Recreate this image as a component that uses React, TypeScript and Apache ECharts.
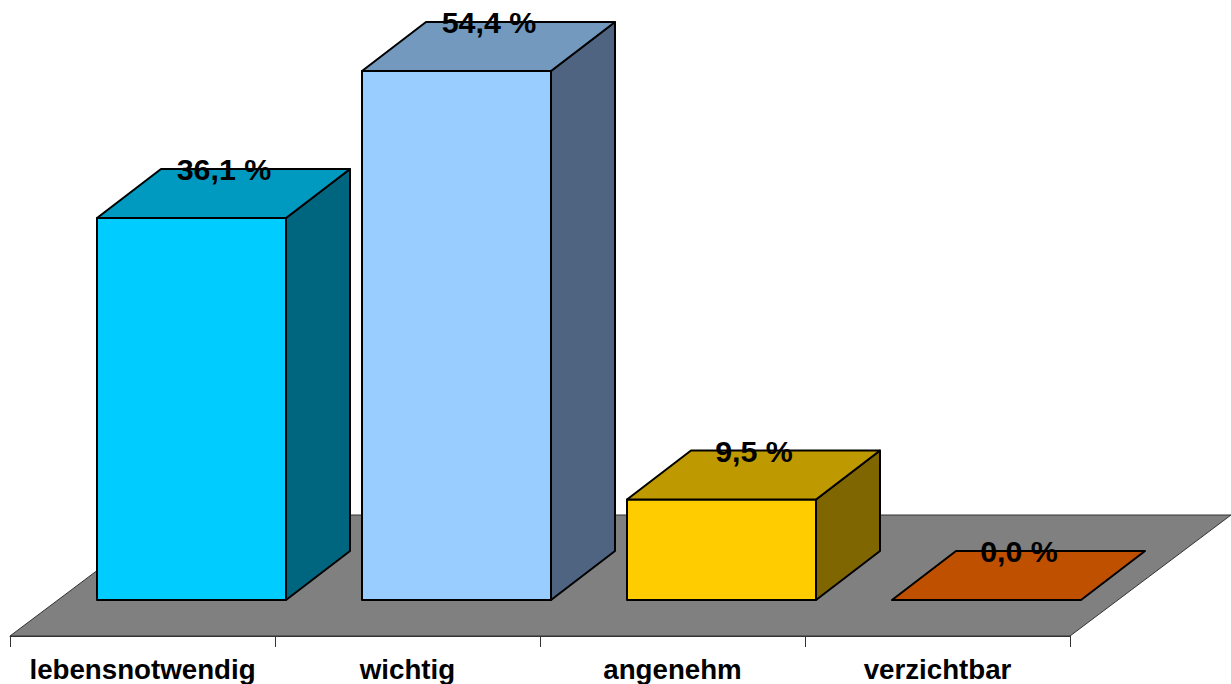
import React, { useEffect, useRef } from "react";
import * as echarts from "echarts";

const categories = ["lebensnotwendig", "wichtig", "angenehm", "verzichtbar"];
const shares = [36.1, 54.4, 9.5, 0.0];
const valueLabels = ["36,1 %", "54,4 %", "9,5 %", "0,0 %"];
const frontColors = ["#00CCFF", "#99CCFF", "#FFCC00", "#FF6600"];
const topColors = ["#0099BF", "#7399BF", "#BF9900", "#BF5000"];
const sideColors = ["#006680", "#4F6480", "#806600", "#803300"];

// The value axis stops at 50, so taller columns are cut off at that height.
const AXIS_MAX = 50;
// The scale runs below zero so the floor's front edge sits under the column feet.
const AXIS_MIN = -3.4;

// Oblique projection of the 3D scene, in pixels.
const BAR_DEPTH_X = 64;
const BAR_DEPTH_Y = -49;
const BAR_WIDTH = 189;
const BAR_SHIFT_X = 49;
const FLOOR_DEPTH_X = 161;
const FLOOR_DEPTH_Y = -121;

const FONT = "'Liberation Sans', Arial, sans-serif";

function renderFloor(params: any) {
  const r = params.coordSys;
  const y = r.y + r.height;
  const l = r.x;
  const w = r.width;
  return {
    type: "polygon",
    shape: {
      points: [
        [l, y],
        [l + w, y],
        [l + w + FLOOR_DEPTH_X, y + FLOOR_DEPTH_Y],
        [l + FLOOR_DEPTH_X, y + FLOOR_DEPTH_Y],
      ],
    },
    style: { fill: "#808080", stroke: "#333333", lineWidth: 1 },
  };
}

function renderBar(params: any, api: any) {
  const i = api.value(0);
  const [cx, y0] = api.coord([i, 0]);
  const [, yTop] = api.coord([i, Math.min(api.value(1), AXIS_MAX)]);
  const left = cx + BAR_SHIFT_X - BAR_WIDTH / 2;
  const right = left + BAR_WIDTH;
  const dx = BAR_DEPTH_X;
  const dy = BAR_DEPTH_Y;
  const edge = { stroke: "#000000", lineWidth: 2, lineJoin: "round" };
  const face = (points: number[][], fill: string) => ({
    type: "polygon",
    shape: { points },
    style: { fill, ...edge },
  });
  const faces = [];
  if (yTop < y0) {
    faces.push(
      face([[left, y0], [right, y0], [right, yTop], [left, yTop]], frontColors[i]),
      face([[right, y0], [right + dx, y0 + dy], [right + dx, yTop + dy], [right, yTop]], sideColors[i]),
    );
  }
  faces.push(
    face([[left, yTop], [right, yTop], [right + dx, yTop + dy], [left + dx, yTop + dy]], topColors[i]),
  );
  return {
    type: "group",
    children: [
      ...faces,
      {
        type: "text",
        style: {
          text: valueLabels[i],
          x: cx + BAR_SHIFT_X + 32.5,
          y: yTop + dy,
          align: "center",
          verticalAlign: "middle",
          fill: "#000000",
          font: `bold 30.4px ${FONT}`,
        },
      },
    ],
  };
}

export default function App() {
  const ref = useRef<HTMLDivElement>(null);

  useEffect(() => {
    const chart = echarts.init(ref.current!, undefined, { renderer: "svg" });
    chart.setOption({
      animation: false,
      backgroundColor: "#FFFFFF",
      grid: { left: 10, width: 1060, top: 71, height: 565 },
      xAxis: {
        type: "category",
        data: categories,
        z: 5,
        axisLine: { show: true, onZero: false, lineStyle: { color: "#333333", width: 1 } },
        axisTick: { show: true, length: 11, alignWithLabel: false, lineStyle: { color: "#333333", width: 1 } },
        axisLabel: {
          margin: 19,
          interval: 0,
          color: "#000000",
          fontFamily: FONT,
          fontWeight: "bold",
          fontSize: 27.7,
        },
      },
      yAxis: { type: "value", min: AXIS_MIN, max: AXIS_MAX, show: false },
      series: [
        {
          type: "custom",
          renderItem: renderFloor,
          data: [[0, 0]],
          encode: { x: 0, y: 1 },
          clip: false,
          silent: true,
          z: 1,
        },
        {
          type: "custom",
          renderItem: renderBar,
          data: shares.map((v, i) => [i, v]),
          encode: { x: 0, y: 1 },
          clip: false,
          z: 2,
        },
      ],
    });
    return () => chart.dispose();
  }, []);

  return (
    <div
      ref={ref}
      style={{ position: "fixed", left: 0, top: 0, width: 1231, height: 684 }}
    />
  );
}
